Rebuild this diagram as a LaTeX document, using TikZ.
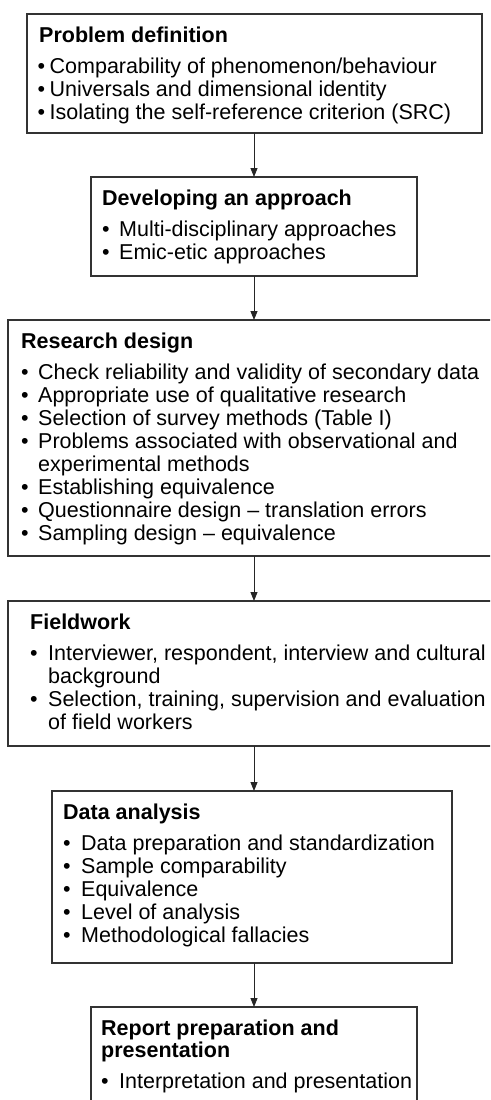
\documentclass[tikz,border=0pt]{standalone}
\usepackage{fontspec}
\setmainfont{Liberation Sans}
\usetikzlibrary{arrows.meta}
\newcommand{\bl}[1]{\makebox[#1pt][l]{\textbullet}}
\begin{document}
\begin{tikzpicture}[x=1pt,y=-1pt,
  boxst/.style={draw=black!80, line width=1.1pt, outer sep=0pt, inner sep=0pt, anchor=north west, fill=none},
  ln/.style={anchor=base west, inner sep=0pt, text height=15.6pt, text depth=4.4pt, font=\fontsize{21.5}{23}\selectfont},
  ttl/.style={anchor=base west, inner sep=0pt, text height=15.6pt, text depth=4.4pt, font=\fontsize{21.5}{23}\selectfont\bfseries},
  arr/.style={draw=black!85, line width=0.9pt, -{Triangle[width=7pt,length=9pt]}}]
\useasboundingbox (0,0) rectangle (490,1100);
\clip (0,0) rectangle (490,1100);

% Box 1
\node[boxst, minimum width=455pt, minimum height=119pt] (b1) at (27,14) {};
\node[ttl] (t1) at (39,42) {Problem definition};
\node[ln] (t1a) at (37.5,73) {\bl{12}Comparability of phenomenon/behaviour};
\node[ln] (t1b) at (37.5,96) {\bl{12}Universals and dimensional identity};
\node[ln] (t1c) at (37.5,119) {\bl{12}Isolating the self-reference criterion (SRC)};

% Box 2
\node[boxst, minimum width=326pt, minimum height=99pt] (b2) at (91,177) {};
\node[ttl] (t2) at (102,205) {Developing an approach};
\node[ln] (t2a) at (102,236) {\bl{17}Multi-disciplinary approaches};
\node[ln] (t2b) at (102,259) {\bl{17}Emic-etic approaches};

% Box 3
\node[boxst, minimum width=492pt, minimum height=236pt] (b3) at (8,320) {};
\node[ttl] (t3) at (21,348) {Research design};
\node[ln] (t3a) at (21,379) {\bl{17}Check reliability and validity of secondary data};
\node[ln] (t3b) at (21,402) {\bl{17}Appropriate use of qualitative research};
\node[ln] (t3c) at (21,425) {\bl{17}Selection of survey methods (Table I)};
\node[ln] (t3d) at (21,448) {\bl{17}Problems associated with observational and};
\node[ln] (t3e) at (38,471) {experimental methods};
\node[ln] (t3f) at (21,494) {\bl{17}Establishing equivalence};
\node[ln] (t3g) at (21,517) {\bl{17}Questionnaire design -- translation errors};
\node[ln] (t3h) at (21,540) {\bl{17}Sampling design -- equivalence};

% Box 4
\node[boxst, minimum width=492pt, minimum height=145pt] (b4) at (8,601) {};
\node[ttl] (t4) at (30,629) {Fieldwork};
\node[ln] (t4a) at (30,660) {\bl{18}Interviewer, respondent, interview and cultural};
\node[ln] (t4b) at (48,683) {background};
\node[ln] (t4c) at (30,706) {\bl{18}Selection, training, supervision and evaluation};
\node[ln] (t4d) at (48,729) {of field workers};

% Box 5
\node[boxst, minimum width=400pt, minimum height=172pt] (b5) at (52,791) {};
\node[ttl] (t5) at (63,819) {Data analysis};
\node[ln] (t5a) at (63,850) {\bl{18}Data preparation and standardization};
\node[ln] (t5b) at (63,873) {\bl{18}Sample comparability};
\node[ln] (t5c) at (63,896) {\bl{18}Equivalence};
\node[ln] (t5d) at (63,919) {\bl{18}Level of analysis};
\node[ln] (t5e) at (63,942) {\bl{18}Methodological fallacies};

% Box 6
\node[boxst, minimum width=326pt, minimum height=130pt] (b6) at (91,1007) {};
\node[ttl] (t6) at (101,1035) {Report preparation and};
\node[ttl] (t6b) at (101,1057) {presentation};
\node[ln] (t6a) at (101,1088) {\bl{18}Interpretation and presentation};

% Arrows
\draw[arr] (b2.north |- b1.south) -- (b2.north);
\draw[arr] (b2.south) -- (b2.south |- b3.north);
\draw[arr] (b3.south) -- (b3.south |- b4.north);
\draw[arr] (b4.south) -- (b4.south |- b5.north);
\draw[arr] (b6.north |- b5.south) -- (b6.north);
\end{tikzpicture}
\end{document}
